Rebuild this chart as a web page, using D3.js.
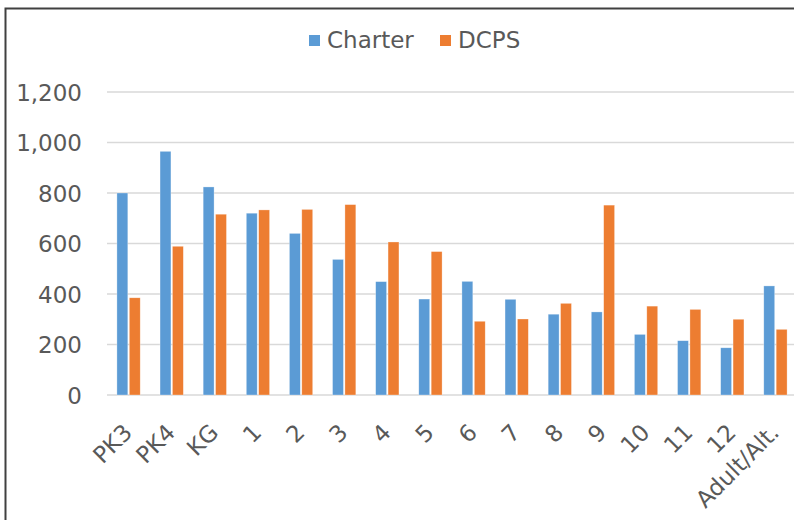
<!DOCTYPE html>
<html>
<head>
<meta charset="utf-8">
<script src="https://cdn.jsdelivr.net/npm/d3@7"></script>
<style>
  html, body { margin: 0; padding: 0; background: #fff; }
  svg { display: block; }
  text { font-family: "DejaVu Sans", Verdana, sans-serif; fill: #595959; }
</style>
</head>
<body>
<script>
const categories = ["PK3", "PK4", "KG", "1", "2", "3", "4", "5", "6", "7", "8", "9", "10", "11", "12", "Adult/Alt."];
const charter = [800, 965, 824, 720, 640, 537, 449, 380, 450, 379, 320, 329, 240, 215, 187, 432];
const dcps = [385, 589, 716, 733, 735, 754, 606, 568, 292, 301, 363, 752, 352, 339, 300, 260];
const seriesNames = ["Charter", "DCPS"];
const seriesColors = ["#5B9BD5", "#ED7D31"];
const yTicks = [0, 200, 400, 600, 800, 1000, 1200];

const W = 794, H = 520;
const svg = d3.select("body").append("svg").attr("width", W).attr("height", H);

// chart border
svg.append("rect")
  .attr("x", 5.5).attr("y", 8.5).attr("width", 820).attr("height", 540)
  .attr("fill", "none").attr("stroke", "#404040").attr("stroke-width", 2);

const plotLeft = 107, plotRight = 797, plotTop = 92, plotBottom = 395;

const x = d3.scaleBand().domain(categories).range([plotLeft, plotRight]).paddingInner(0.46).paddingOuter(0.23);
const xs = d3.scaleBand().domain(seriesNames).range([0, x.bandwidth()]).paddingInner(0.12);
const y = d3.scaleLinear().domain([0, 1200]).range([plotBottom, plotTop]);

// gridlines
svg.append("g").selectAll("line").data(yTicks).join("line")
  .attr("x1", plotLeft).attr("x2", plotRight)
  .attr("y1", d => y(d)).attr("y2", d => y(d))
  .attr("stroke", "#d9d9d9").attr("stroke-width", 1.4);

// y axis labels
const fmt = d3.format(",");
const yAxis = d3.axisLeft(y).tickValues(yTicks).tickFormat(fmt).tickSize(0).tickPadding(0);
const yg = svg.append("g").attr("transform", `translate(${plotLeft - 25},0)`).call(yAxis);
yg.select(".domain").remove();
yg.selectAll("text").attr("font-size", 23).attr("fill", "#595959")
  .style("font-family", '"DejaVu Sans", Verdana, sans-serif').attr("dy", "0.36em");

// bars
const data = [charter, dcps];
const groups = svg.append("g").selectAll("g").data(categories).join("g")
  .attr("transform", d => `translate(${x(d)},0)`);
groups.selectAll("rect").data((d, i) => seriesNames.map((s, k) => ({ s, k, v: data[k][i] })))
  .join("rect")
  .attr("x", d => xs(d.s))
  .attr("width", xs.bandwidth())
  .attr("y", d => y(d.v))
  .attr("height", d => y(0) - y(d.v))
  .attr("fill", d => seriesColors[d.k])
  .attr("stroke", "#ffffff").attr("stroke-opacity", 0.5).attr("stroke-width", 0.6);

// x axis labels
const xg = svg.append("g");
xg.selectAll("text").data(categories).join("text")
  .attr("transform", d => `translate(${x(d) + x.bandwidth() / 2 + 5},${434}) rotate(-45)`)
  .attr("text-anchor", "end")
  .attr("font-size", 23)
  .text(d => d);

// legend
const legend = svg.append("g");
const legItems = [{ name: "Charter", x: 309 }, { name: "DCPS", x: 440 }];
legItems.forEach((it, k) => {
  legend.append("rect").attr("x", it.x).attr("y", 35).attr("width", 11).attr("height", 11)
    .attr("fill", seriesColors[k]);
  legend.append("text").attr("x", it.x + 18).attr("y", 48).attr("font-size", 23).text(seriesNames[k]);
});
</script>
</body>
</html>
